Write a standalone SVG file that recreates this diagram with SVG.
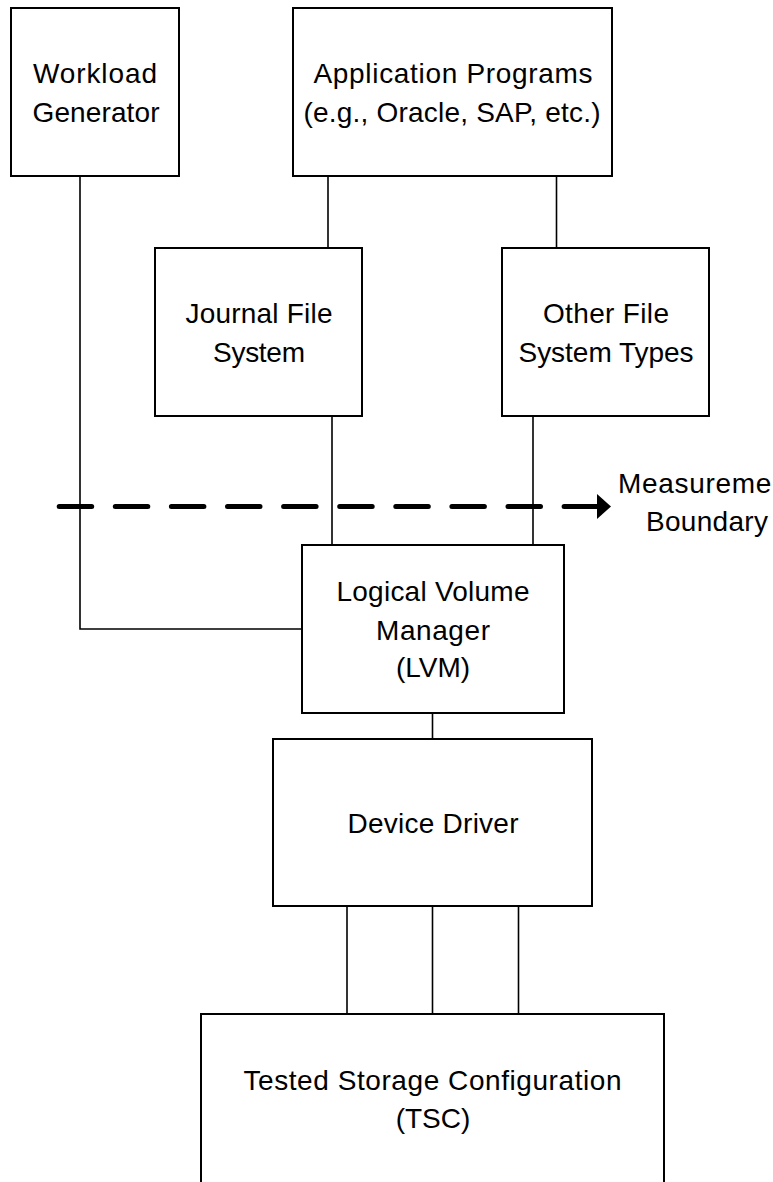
<svg xmlns="http://www.w3.org/2000/svg" width="773" height="1182" viewBox="0 0 773 1182">
<style>
.box{fill:#fff;stroke:#000;stroke-width:2}
.lbl{font-family:"Liberation Sans",Arial,sans-serif;font-size:28px;fill:#000;text-anchor:middle}
.conn{fill:none;stroke:#000;stroke-width:1.6}
.bound{fill:none;stroke:#000;stroke-width:5;stroke-linecap:round;stroke-dasharray:32.5 23.6}
</style>
<rect x="0" y="0" width="773" height="1182" fill="#fff"/>
<g id="connectors">
<path class="conn" d="M80,176 V629 H302"/>
<path class="conn" d="M328,176 V248"/>
<path class="conn" d="M556.5,176 V248"/>
<path class="conn" d="M332,416 V545"/>
<path class="conn" d="M533,416 V545"/>
<path class="conn" d="M432.5,713 V739"/>
<path class="conn" d="M347,906 V1014"/>
<path class="conn" d="M432.5,906 V1014"/>
<path class="conn" d="M518.5,906 V1014"/>
</g>
<g id="workload">
<rect class="box" x="11" y="8" width="168" height="168"/>
<text class="lbl" x="95" y="83" textLength="124">Workload</text>
<text class="lbl" x="96" y="122" textLength="127">Generator</text>
</g>
<g id="applications">
<rect class="box" x="293" y="8" width="319" height="168"/>
<text class="lbl" x="453" y="83" textLength="279">Application Programs</text>
<text class="lbl" x="452" y="122" textLength="297">(e.g., Oracle, SAP, etc.)</text>
</g>
<g id="journal">
<rect class="box" x="155" y="248" width="207" height="168"/>
<text class="lbl" x="259" y="323" textLength="147">Journal File</text>
<text class="lbl" x="259" y="362" textLength="92">System</text>
</g>
<g id="otherfs">
<rect class="box" x="502" y="248" width="207" height="168"/>
<text class="lbl" x="606" y="323" textLength="126">Other File</text>
<text class="lbl" x="606" y="362" textLength="175">System Types</text>
</g>
<g id="lvm">
<rect class="box" x="302" y="545" width="262" height="168"/>
<text class="lbl" x="433" y="601" textLength="193">Logical Volume</text>
<text class="lbl" x="433" y="640" textLength="114">Manager</text>
<text class="lbl" x="433" y="677">(LVM)</text>
</g>
<g id="driver">
<rect class="box" x="273" y="739" width="319" height="167"/>
<text class="lbl" x="433" y="833" textLength="171">Device Driver</text>
</g>
<g id="tsc">
<rect class="box" x="201" y="1014" width="463" height="200"/>
<text class="lbl" x="432.5" y="1090" textLength="378">Tested Storage Configuration</text>
<text class="lbl" x="433" y="1128">(TSC)</text>
</g>
<g id="boundary">
<path class="bound" d="M59.2,506.5 H598"/>
<polygon points="597,494 611,506.5 597,519" fill="#000"/>
<text class="lbl" x="707" y="493" textLength="178">Measurement</text>
<text class="lbl" x="707" y="531" textLength="122">Boundary</text>
</g>
</svg>
